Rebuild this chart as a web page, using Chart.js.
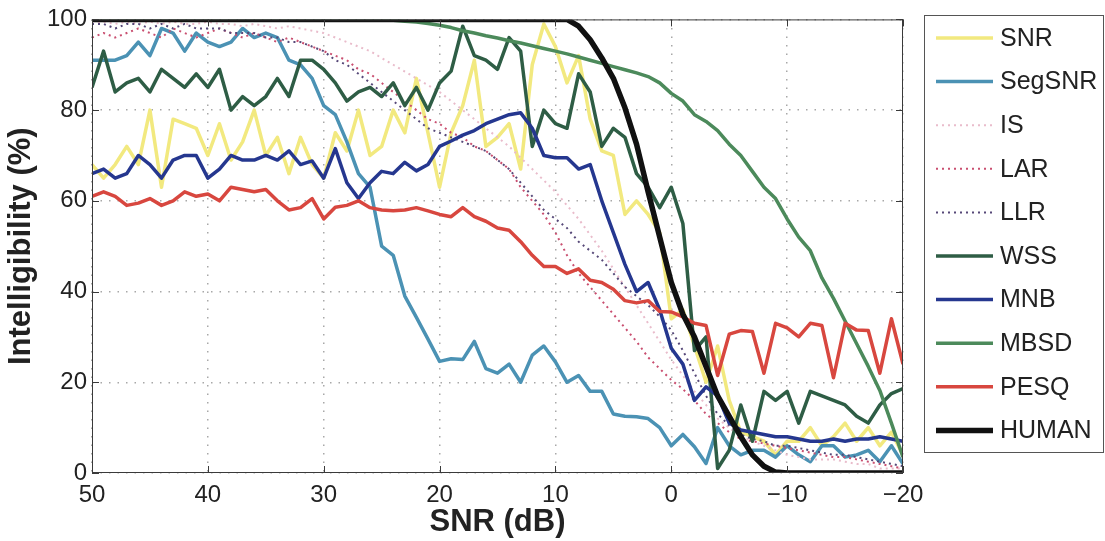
<!DOCTYPE html>
<html>
<head>
<meta charset="utf-8">
<script src="https://cdn.jsdelivr.net/npm/chart.js@4.4.1/dist/chart.umd.min.js"></script>
<style>
  html, body { margin: 0; padding: 0; background: #fff; }
  #wrap { width: 1105px; height: 541px; }
</style>
</head>
<body>
<div id="wrap"><canvas id="chart" width="1105" height="541"></canvas></div>
<script>
// x positions (dB), left to right as plotted (axis is reversed)
const SNR_DB = [
  50, 49, 48, 47, 46, 45, 44, 43, 42, 41,
  40, 39, 38, 37, 36, 35, 34, 33, 32, 31,
  30, 29, 28, 27, 26, 25, 24, 23, 22, 21,
  20, 19, 18, 17, 16, 15, 14, 13, 12, 11,
  10, 9, 8, 7, 6, 5, 4, 3, 2, 1,
  0, -1, -2, -3, -4, -5, -6, -7, -8, -9,
  -10, -11, -12, -13, -14, -15, -16, -17, -18, -19,
  -20
];

const X_TICKS = [50, 40, 30, 20, 10, 0, -10, -20];
const Y_TICKS = [0, 20, 40, 60, 80, 100];

// intelligibility (%) per measure, one value per SNR_DB entry
const SNR_VALUES = [
  68, 65, 68, 72, 68, 80, 63, 78, 77, 76,
  70, 77, 69, 73, 80, 70, 74, 66, 74, 68,
  65, 75, 71, 80, 70, 72, 80, 75, 87, 75,
  63, 75, 81, 91, 72, 74, 77, 67, 90, 99,
  94, 86, 92, 78, 71, 70, 57, 60, 57, 53,
  34, 36, 28, 20, 28, 16, 9, 8, 7, 4,
  7, 7, 10, 6, 8, 11, 7, 10, 6, 9,
  4
];

const SEGSNR_VALUES = [
  91, 91, 91, 92, 95, 92, 98, 97, 93, 97,
  95, 94, 95, 98, 96, 97, 96, 91, 90, 87,
  81, 79, 73, 66, 63, 50, 48, 39, 34.3, 29.5,
  24.6, 25.2, 25, 29, 23, 22, 24, 20, 26, 28,
  24.5, 20, 21.5, 18, 18, 13, 12.5, 12.4, 12, 10,
  6, 8.5, 5.8, 2.1, 10, 6, 4, 5, 5, 3.5,
  6, 4, 2.5, 6, 6, 3.5, 4, 5, 2.5, 6,
  2
];

const IS_VALUES = [
  99, 99.5, 99, 99.5, 99, 99.5, 99, 99.5, 99, 99,
  99.5, 99, 99, 98.5, 99, 98.5, 98, 98.5, 98, 97.5,
  97, 96, 95, 94, 93, 91.5, 90, 88.5, 87, 85.5,
  84, 82, 80, 78, 76, 74, 72, 69.5, 67, 64.5,
  62, 59, 56, 52.5, 49, 45, 41, 37, 33, 29,
  25, 21.5, 18, 15, 12, 10, 8, 7, 6, 5,
  4, 3.5, 3, 3, 3, 2.5, 2, 2, 1, 1,
  1
];

const LAR_VALUES = [
  96, 97, 96, 97, 98, 97, 96, 98, 97, 96,
  97, 98, 97, 96, 97, 96, 95, 96, 95, 94,
  93, 92, 91, 89, 88, 86, 84, 82, 80, 78,
  77, 75, 74, 72, 71, 69, 67, 63, 60, 57,
  53, 48, 44, 41, 38, 35, 32, 29, 25.5, 23,
  20.5, 18.5, 16, 13, 11, 9, 7.5, 7, 6.5, 6,
  5.5, 5, 4.5, 4, 3.5, 3.5, 3, 2.5, 2, 1.5,
  1
];

const LLR_VALUES = [
  99, 99, 98, 99, 99, 98, 99, 98, 99, 98,
  98, 98, 97, 97, 97, 96, 96, 95, 95, 94,
  93, 91, 90, 88, 86, 84, 82, 80, 78, 76,
  75, 74, 73, 72, 71, 69, 67, 64, 61, 58,
  56, 54, 51, 49, 47, 44, 41, 39, 37, 34.5,
  31.5, 27, 22, 17, 13, 10.5, 8.5, 7.5, 7, 6,
  6, 5.5, 5, 4.5, 4, 4, 3.5, 3, 2.5, 2,
  1.5
];

const WSS_VALUES = [
  85, 93, 84, 86, 87, 84, 89, 87, 85, 88,
  85, 89, 80, 83, 81, 83, 87, 83, 91, 91,
  89, 86, 82, 84, 85, 83, 86, 81, 85, 80,
  86, 88.6, 98.5, 92, 91, 89, 96, 93, 72, 80,
  77, 76, 88, 84, 72, 76, 74, 66, 63, 58.5,
  63, 55, 27, 30, 1, 5, 15, 7, 18, 16,
  18, 11, 18, 17, 16, 15, 12.5, 11, 15, 17.5,
  18.6
];

const MNB_VALUES = [
  66, 67, 65, 66, 70, 68, 65, 69, 70, 70,
  65, 67, 70, 69, 69, 70, 69, 71, 68, 68.8,
  65, 71.5, 64, 60.5, 64, 66.5, 66, 68.5, 66.6, 68,
  72, 73.2, 74.5, 75.5, 77, 78, 79, 79.4, 76, 70,
  69.5, 69.5, 67, 68, 60, 53, 46, 40, 42, 36,
  27.5, 24, 16, 19, 17, 11, 9.5, 9, 8.5, 8,
  8, 7.5, 7, 7, 7.5, 7, 7.5, 7.5, 8, 7.5,
  7
];

const MBSD_VALUES = [
  100, 100, 100, 100, 100, 100, 100, 100, 100, 100,
  100, 100, 100, 100, 100, 100, 100, 100, 100, 100,
  100, 100, 100, 100, 100, 99.9, 99.8, 99.6, 99.4, 99.1,
  98.7, 98.2, 97.5, 97, 96.4, 95.9, 95.3, 94.8, 94.2, 93.6,
  93, 92.4, 91.7, 91, 90.3, 89.6, 88.9, 88.2, 87.4, 86,
  83.7, 82, 79, 77.5, 75.5, 72.5, 70, 66.5, 63, 60.5,
  56, 52, 49, 43, 38.5, 33.5, 28.5, 23.5, 18.2, 11,
  3.5
];

const PESQ_VALUES = [
  61, 62, 61, 59, 59.5, 60.5, 59, 60, 62, 61,
  61.5, 60, 63, 62.5, 62, 62.5, 60, 58, 58.5, 60.5,
  56, 58.6, 59, 60, 58.5, 58, 57.8, 58, 58.5, 57.8,
  57, 56.5, 58.5, 56.5, 55.5, 54, 53.5, 51, 48, 45.5,
  45.5, 44, 45, 42.5, 42, 40.5, 38, 37.5, 38, 35.6,
  35.5, 34.4, 33, 32.5, 21.5, 30.6, 31.4, 31.2, 22, 33,
  32, 30, 33, 32.5, 21, 33, 31.5, 31.4, 22, 34,
  24
];

const HUMAN_VALUES = [
  100, 100, 100, 100, 100, 100, 100, 100, 100, 100,
  100, 100, 100, 100, 100, 100, 100, 100, 100, 100,
  100, 100, 100, 100, 100, 100, 100, 100, 100, 100,
  100, 100, 100, 100, 100, 100, 100, 100, 100, 100,
  100, 100, 98.5, 95.5, 91.5, 87, 80.5, 72.5, 62, 52,
  42, 35, 30, 23.5, 17, 12.5, 8, 4, 1.5, 0.2,
  0, 0, 0, 0, 0, 0, 0, 0, 0, 0,
  0
];

// drawing styles, in legend order
const SERIES = [
  { label: "SNR",    values: SNR_VALUES,    color: "#f2e97f", width: 3.5, dash: [] },
  { label: "SegSNR", values: SEGSNR_VALUES, color: "#4b92b4", width: 3.5, dash: [] },
  { label: "IS",     values: IS_VALUES,     color: "#e9bccb", width: 2, dash: [2, 4] },
  { label: "LAR",    values: LAR_VALUES,    color: "#c94f70", width: 2, dash: [2, 4] },
  { label: "LLR",    values: LLR_VALUES,    color: "#564878", width: 2, dash: [2, 4] },
  { label: "WSS",    values: WSS_VALUES,    color: "#2e5d45", width: 3.5, dash: [] },
  { label: "MNB",    values: MNB_VALUES,    color: "#25378f", width: 3.5, dash: [] },
  { label: "MBSD",   values: MBSD_VALUES,   color: "#4c8a5b", width: 3.5, dash: [] },
  { label: "PESQ",   values: PESQ_VALUES,   color: "#d8473f", width: 3.5, dash: [] },
  { label: "HUMAN",  values: HUMAN_VALUES,  color: "#111111", width: 5.5, dash: [] }
];

const FONT = "'Liberation Sans', Arial, Helvetica, sans-serif";

function minusLabel(v) {
  return v < 0 ? "\u2212" + Math.abs(v) : String(v);
}

// MATLAB-like box round the axes with inward tick marks
const axesBox = {
  id: "axesBox",
  afterDatasetsDraw(chart) {
    const { ctx, chartArea: a, scales } = chart;
    ctx.save();
    ctx.strokeStyle = "#3a3a3a";
    ctx.lineWidth = 1;
    ctx.strokeRect(a.left + 0.5, a.top + 0.5, a.right - a.left - 1, a.bottom - a.top - 1);
    ctx.beginPath();
    for (const v of X_TICKS) {
      const px = Math.round(scales.x.getPixelForValue(v)) + 0.5;
      ctx.moveTo(px, a.bottom); ctx.lineTo(px, a.bottom - 7);
      ctx.moveTo(px, a.top); ctx.lineTo(px, a.top + 7);
    }
    for (const v of Y_TICKS) {
      const py = Math.round(scales.y.getPixelForValue(v)) + 0.5;
      ctx.moveTo(a.left, py); ctx.lineTo(a.left + 7, py);
      ctx.moveTo(a.right, py); ctx.lineTo(a.right - 7, py);
    }
    ctx.stroke();
    ctx.restore();
  }
};

// legend in a framed box to the right of the axes
const boxedLegend = {
  id: "boxedLegend",
  afterDraw(chart) {
    const { ctx } = chart;
    ctx.save();
    ctx.strokeStyle = "#555";
    ctx.lineWidth = 1;
    ctx.strokeRect(924.5, 15.5, 179, 437);
    chart.data.datasets.forEach((ds, i) => {
      const rowY = 38 + i * 43.6;
      ctx.beginPath();
      ctx.setLineDash(ds.borderDash || []);
      ctx.strokeStyle = ds.borderColor;
      ctx.lineWidth = ds.borderWidth;
      ctx.moveTo(936, rowY);
      ctx.lineTo(993, rowY);
      ctx.stroke();
      ctx.setLineDash([]);
      ctx.fillStyle = "#222";
      ctx.font = "25px " + FONT;
      ctx.textBaseline = "middle";
      ctx.textAlign = "left";
      ctx.fillText(ds.label, 1000, rowY + 1);
    });
    ctx.restore();
  }
};

const datasets = SERIES.map((s, i) => ({
  label: s.label,
  data: SNR_DB.map((x, k) => ({ x, y: s.values[k] })),
  borderColor: s.color,
  backgroundColor: s.color,
  borderWidth: s.width,
  borderDash: s.dash,
  pointRadius: 0,
  tension: 0,
  borderJoinStyle: "round",
  fill: false,
  order: SERIES.length - i
}));

new Chart(document.getElementById("chart"), {
  type: "line",
  data: { datasets },
  options: {
    responsive: false,
    animation: false,
    devicePixelRatio: 1,
    layout: { padding: { top: 18, right: 202, bottom: 0, left: 0 } },
    plugins: {
      legend: { display: false },
      tooltip: { enabled: false }
    },
    scales: {
      x: {
        type: "linear",
        reverse: true,
        min: -20,
        max: 50,
        afterFit: (scale) => { scale.height = 68; },
        afterBuildTicks: (scale) => { scale.ticks = X_TICKS.map((v) => ({ value: v })); },
        ticks: {
          padding: 8,
          color: "#222",
          font: { family: FONT, size: 24 },
          callback: (v) => minusLabel(v)
        },
        grid: { color: "#a8a8a8", lineWidth: 1.5, drawTicks: false },
        border: { display: false, dash: [1.5, 7] },
        title: {
          display: true,
          text: "SNR (dB)",
          color: "#222",
          font: { family: FONT, size: 31, weight: "bold" },
          padding: { top: 0, bottom: 0 }
        }
      },
      y: {
        min: 0,
        max: 100,
        afterFit: (scale) => { scale.width = 92; },
        afterBuildTicks: (scale) => { scale.ticks = Y_TICKS.map((v) => ({ value: v })); },
        ticks: {
          padding: 5,
          color: "#222",
          font: { family: FONT, size: 24 }
        },
        grid: { color: "#a8a8a8", lineWidth: 1.5, drawTicks: false },
        border: { display: false, dash: [1.5, 7] },
        title: {
          display: true,
          text: "Intelligibility (%)",
          color: "#222",
          font: { family: FONT, size: 31, weight: "bold" },
          padding: { top: 3, bottom: 0 }
        }
      }
    }
  },
  plugins: [axesBox, boxedLegend]
});
</script>
</body>
</html>
